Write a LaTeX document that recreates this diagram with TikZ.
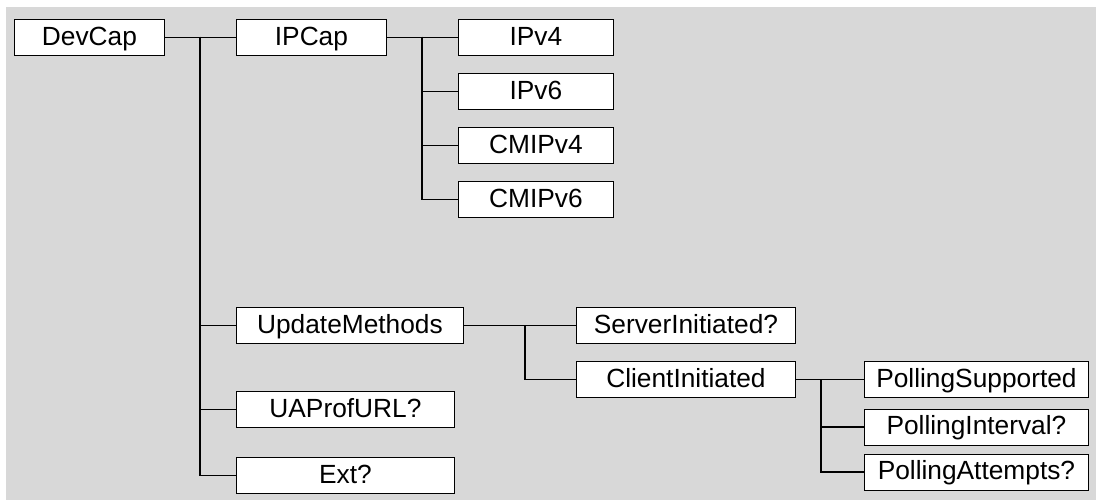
\documentclass[tikz,border=0pt]{standalone}
\usepackage{fontspec}
\setmainfont{Liberation Sans}
\tikzset{
  box/.style={draw=black, fill=white, line width=0.9pt, inner sep=0pt,
    text height=26pt, text depth=10pt, anchor=north west,
    font=\fontsize{26.3}{30}\selectfont},
  conn/.style={draw=black, line width=1.1pt}
}
\begin{document}
\begin{tikzpicture}[x=1pt,y=-1pt]
\useasboundingbox (0,0) rectangle (1096,500);
\fill[fill={rgb,255:red,216;green,216;blue,216}] (6,7) rectangle (1096,500);
% level 0
\node[box, minimum width=150pt] (devcap) at (14,19) {DevCap};
% level 1
\node[box, minimum width=150pt] (ipcap) at (236,19) {IPCap};
\node[box, minimum width=227pt] (upd) at (236,307) {UpdateMethods};
\node[box, minimum width=218pt] (uaprof) at (236,391) {UAProfURL?};
\node[box, minimum width=218pt] (ext) at (236,457) {Ext?};
% IP children
\node[box, minimum width=155pt] (ipv4) at (458,19) {IPv4};
\node[box, minimum width=155pt] (ipv6) at (458,73) {IPv6};
\node[box, minimum width=155pt] (cmipv4) at (458,127) {CMIPv4};
\node[box, minimum width=155pt] (cmipv6) at (458,181) {CMIPv6};
% update methods children
\node[box, minimum width=219pt] (server) at (576,307) {ServerInitiated?};
\node[box, minimum width=219pt] (client) at (576,361) {ClientInitiated};
% client children
\node[box, minimum width=224pt] (psup) at (864,361) {PollingSupported};
\node[box, minimum width=224pt] (pint) at (864,408.5) {PollingInterval?};
\node[box, minimum width=224pt] (patt) at (864,453.5) {PollingAttempts?};
% junctions
\coordinate (j1) at (200,37);
\coordinate (j2) at (422,37);
\coordinate (j3) at (525,325);
\coordinate (j4) at (821,379);
% connectors
\draw[conn] (devcap.east) -- (ipcap.west);
\draw[conn] (j1) |- (upd.west);
\draw[conn] (j1) |- (uaprof.west);
\draw[conn] (j1) |- (ext.west);
\draw[conn] (ipcap.east) -- (ipv4.west);
\draw[conn] (j2) |- (ipv6.west);
\draw[conn] (j2) |- (cmipv4.west);
\draw[conn] (j2) |- (cmipv6.west);
\draw[conn] (upd.east) -- (server.west);
\draw[conn] (j3) |- (client.west);
\draw[conn] (client.east) -- (psup.west);
\draw[conn] (j4) |- (pint.west);
\draw[conn] (j4) |- (patt.west);
\end{tikzpicture}
\end{document}
